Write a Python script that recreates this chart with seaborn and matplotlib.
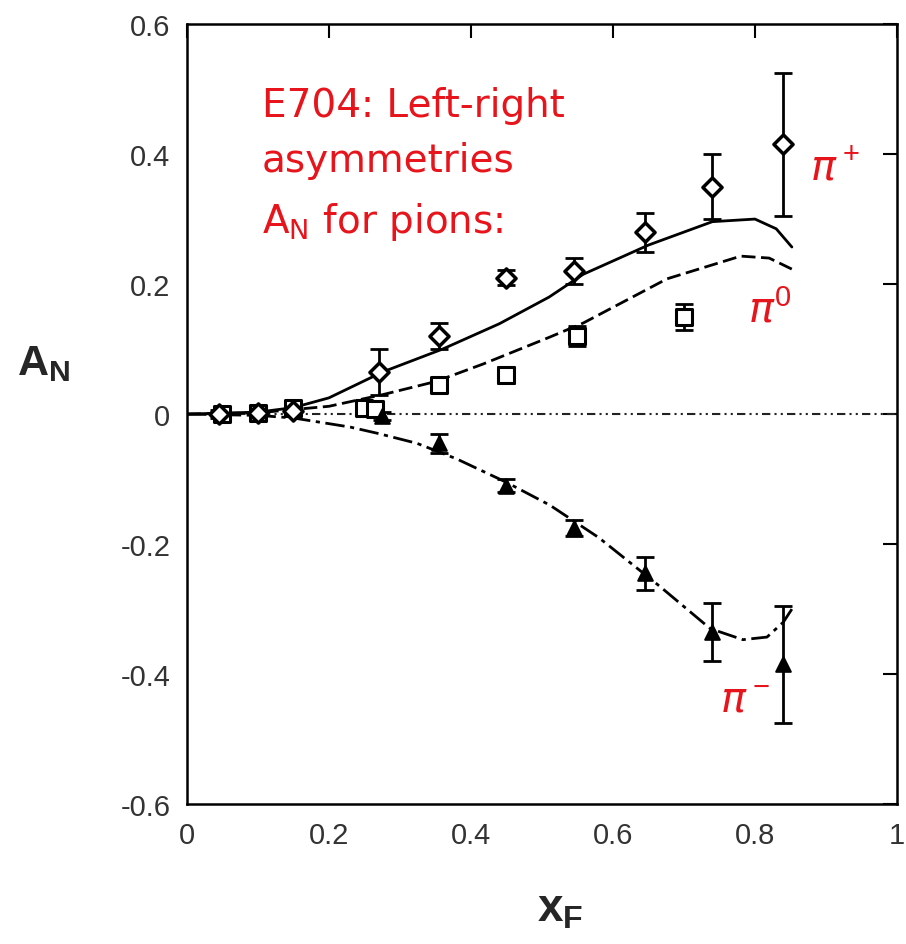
import numpy as np
import pandas as pd
import matplotlib
matplotlib.use("Agg")
import matplotlib.pyplot as plt
import seaborn as sns

# E704 left-right asymmetries A_N for pions
xf_plus = [0.045, 0.10, 0.15, 0.27, 0.355, 0.45, 0.545, 0.645, 0.74, 0.84]
an_plus = [0.0, 0.002, 0.005, 0.065, 0.12, 0.21, 0.22, 0.28, 0.35, 0.415]
err_plus = [0.006, 0.006, 0.008, 0.035, 0.02, 0.012, 0.02, 0.03, 0.05, 0.11]

xf_zero = [0.05, 0.10, 0.15, 0.25, 0.265, 0.355, 0.45, 0.55, 0.70]
an_zero = [0.0, 0.002, 0.01, 0.01, 0.008, 0.045, 0.06, 0.12, 0.15]
err_zero = [0.005, 0.005, 0.006, 0.008, 0.008, 0.01, 0.012, 0.015, 0.02]

xf_minus = [0.275, 0.355, 0.45, 0.545, 0.645, 0.74, 0.84]
an_minus = [-0.003, -0.045, -0.11, -0.175, -0.245, -0.335, -0.385]
err_minus = [0.006, 0.015, 0.01, 0.012, 0.025, 0.045, 0.09]

# model curves
cx_plus = [0.0, 0.10, 0.15, 0.20, 0.276, 0.36, 0.44, 0.51, 0.558, 0.65, 0.74, 0.80, 0.83, 0.852]
cy_plus = [0.0, 0.003, 0.01, 0.025, 0.065, 0.10, 0.139, 0.18, 0.215, 0.26, 0.296, 0.30, 0.285, 0.257]

cx_zero = [0.0, 0.10, 0.20, 0.276, 0.35, 0.417, 0.51, 0.558, 0.676, 0.78, 0.82, 0.852]
cy_zero = [0.0, 0.002, 0.012, 0.03, 0.05, 0.077, 0.118, 0.14, 0.208, 0.243, 0.24, 0.223]

cx_minus = [0.0, 0.10, 0.15, 0.23, 0.27, 0.324, 0.38, 0.45, 0.511, 0.58, 0.666, 0.737, 0.783, 0.817, 0.84, 0.852]
cy_minus = [0.0, -0.002, -0.006, -0.02, -0.03, -0.045, -0.069, -0.105, -0.14, -0.19, -0.265, -0.33, -0.347, -0.343, -0.32, -0.30]

xticks = [0, 0.2, 0.4, 0.6, 0.8, 1]
xtick_labels = ["0", "0.2", "0.4", "0.6", "0.8", "1"]
yticks = [-0.6, -0.4, -0.2, 0, 0.2, 0.4, 0.6]
ytick_labels = ["-0.6", "-0.4", "-0.2", "0", "0.2", "0.4", "0.6"]

sns.set_style("white")
plt.rcParams["font.family"] = ["Liberation Sans", "DejaVu Sans"]
plt.rcParams["mathtext.fontset"] = "custom"
plt.rcParams["mathtext.rm"] = "Liberation Sans"
plt.rcParams["mathtext.bf"] = "Liberation Sans:bold"
plt.rcParams["mathtext.it"] = "DejaVu Sans:italic"

RED = "#e8141c"

fig = plt.figure(figsize=(9.06, 9.45), dpi=100)
ax = fig.add_axes([0.2064, 0.148, 0.7836, 0.8255])

# zero reference line
ax.axhline(0, color="#222222", lw=1.5, ls=(0, (4, 2, 1, 2, 1, 2)), zorder=1)

curves = [
    (cx_plus, cy_plus, "-"),
    (cx_zero, cy_zero, (0, (5, 2))),
    (cx_minus, cy_minus, (0, (7, 2, 1.5, 2))),
]
for cx, cy, ls in curves:
    sns.lineplot(x=cx, y=cy, ax=ax, color="black", lw=2, linestyle=ls,
                 sort=False, zorder=2)

# error bars
for xs, ys, es in [(xf_plus, an_plus, err_plus),
                   (xf_zero, an_zero, err_zero),
                   (xf_minus, an_minus, err_minus)]:
    ax.errorbar(xs, ys, yerr=es, fmt="none", ecolor="black",
                elinewidth=2, capsize=6.5, capthick=2, zorder=3)

# data points
sns.scatterplot(x=xf_zero, y=an_zero, ax=ax, marker="s", s=120,
                facecolor="white", edgecolor="black", linewidth=2.2, zorder=4)
sns.scatterplot(x=xf_plus, y=an_plus, ax=ax, marker="D", s=95,
                facecolor="white", edgecolor="black", linewidth=2.5, zorder=5)
sns.scatterplot(x=xf_minus, y=an_minus, ax=ax, marker="^", s=110,
                facecolor="black", edgecolor="black", linewidth=1.5, zorder=5)

ax.set_xlim(0, 1)
ax.set_ylim(-0.6, 0.6)
ax.set_xticks(xticks)
ax.set_xticklabels(xtick_labels, family="Liberation Sans", fontsize=21, color="#333333")
ax.set_yticks(yticks)
ax.set_yticklabels(ytick_labels, family="Liberation Sans", fontsize=21, color="#333333")
ax.tick_params(direction="in", length=10, width=1.5, top=True, right=True,
               pad=12, colors="black")
ax.tick_params(axis="both", labelcolor="#333333")
for sp in ax.spines.values():
    sp.set_linewidth(1.8)
    sp.set_color("black")

# axis titles
fig.text(0.048, 0.615, r"$\mathbf{A_N}$", fontsize=31, ha="center", va="center")
fig.text(0.618, 0.038, r"$\mathbf{x_F}$", fontsize=33, ha="center", va="center")

# annotations
ax.text(0.105, 0.459, "E704: Left-right", color=RED, fontsize=28,
        family="DejaVu Sans", va="baseline")
ax.text(0.105, 0.374, "asymmetries", color=RED, fontsize=28,
        family="DejaVu Sans", va="baseline")
ax.text(0.105, 0.28, r"A$_\mathregular{N}$ for pions:", color=RED, fontsize=28,
        family="DejaVu Sans", va="baseline")

ax.text(0.877, 0.362, r"$\pi^+$", color=RED, fontsize=30, va="baseline")
ax.text(0.79, 0.142, r"$\pi^0$", color=RED, fontsize=30, va="baseline")
ax.text(0.751, -0.457, r"$\pi^-$", color=RED, fontsize=30, va="baseline")

fig.savefig("out.png", dpi=100, facecolor="white")
